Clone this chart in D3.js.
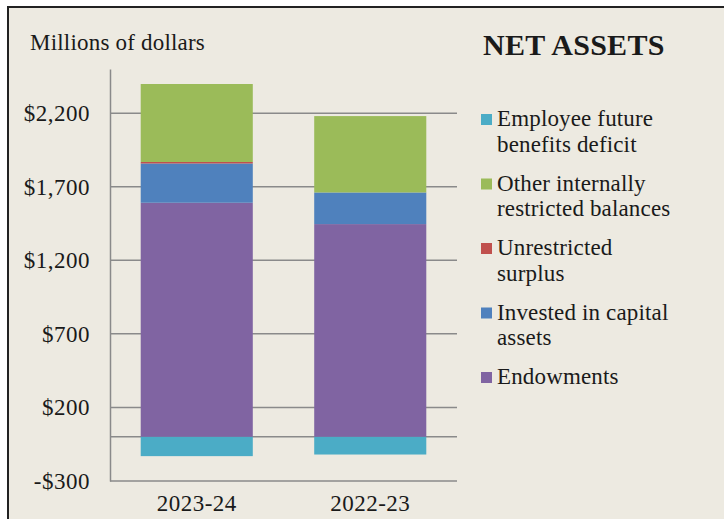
<!DOCTYPE html>
<html>
<head>
<meta charset="utf-8">
<script src="https://cdn.jsdelivr.net/npm/d3@7"></script>
<style>
  html, body { margin: 0; padding: 0; background: #ffffff; }
  svg { display: block; }
  text { font-family: "Liberation Serif", "Times New Roman", serif; fill: #1a1a1a; }
</style>
</head>
<body>
<svg id="chart" width="724" height="519"></svg>
<script>
// ---- Data (millions of dollars) ----
const years = ["2023-24", "2022-23"];
const employeeDeficit = [-131, -120];
const endowments = [1591, 1446];
const investedCapital = [267, 215];
const unrestrictedSurplus = [10, 0];
const otherRestricted = [530, 519];
const tickValues = [-300, 200, 700, 1200, 1700, 2200];
const seriesNames = ["Employee future benefits deficit", "Other internally restricted balances", "Unrestricted surplus", "Invested in capital assets", "Endowments"];
const legendLines = [["Employee future", "benefits deficit"], ["Other internally", "restricted balances"], ["Unrestricted", "surplus"], ["Invested in capital", "assets"], ["Endowments"]];
const seriesColors = ["#4BACC6", "#9BBB59", "#C0504D", "#4F81BD", "#8064A2"];

const svg = d3.select("#chart");
const W = 724, H = 519;

// background panel with border
svg.append("rect").attr("x", 7).attr("y", 6).attr("width", W - 7).attr("height", H - 6).attr("fill", "#EDEAE1");
svg.append("line").attr("x1", 7).attr("x2", W).attr("y1", 7).attr("y2", 7).attr("stroke", "#222").attr("stroke-width", 2);
svg.append("line").attr("x1", 8).attr("x2", 8).attr("y1", 6).attr("y2", H).attr("stroke", "#222").attr("stroke-width", 2);

const plot = { left: 110, right: 457, top: 69, bottom: 481 };

const y = d3.scaleLinear().domain([-300, 2500]).range([plot.bottom, plot.top]);
const x = d3.scaleBand().domain(years).range([plot.left, plot.right]).paddingInner(0.354).paddingOuter(0.177);

// table for stacking
const rows = years.map((yr, i) => ({
  year: yr,
  "Endowments": endowments[i],
  "Invested in capital assets": investedCapital[i],
  "Unrestricted surplus": unrestrictedSurplus[i],
  "Other internally restricted balances": otherRestricted[i],
  "Employee future benefits deficit": employeeDeficit[i]
}));
const stackKeys = ["Endowments", "Invested in capital assets", "Unrestricted surplus", "Other internally restricted balances", "Employee future benefits deficit"];
const color = d3.scaleOrdinal().domain(seriesNames).range(seriesColors);
const stacked = d3.stack().keys(stackKeys).offset(d3.stackOffsetDiverging)(rows);

// gridlines
const gridVals = tickValues.filter(v => v > -300).concat([0]);
svg.append("g").selectAll("line").data(gridVals).join("line")
  .attr("x1", plot.left).attr("x2", plot.right)
  .attr("y1", d => y(d)).attr("y2", d => y(d))
  .attr("stroke", "#8a8a8a").attr("stroke-width", 1.5);

// bars
svg.append("g").selectAll("g").data(stacked).join("g")
  .attr("fill", d => color(d.key))
  .selectAll("rect").data(d => d).join("rect")
  .attr("x", d => x(d.data.year))
  .attr("width", x.bandwidth())
  .attr("y", d => y(Math.max(d[0], d[1])))
  .attr("height", d => Math.abs(y(d[0]) - y(d[1])));

// y axis
const yAxis = d3.axisLeft(y).tickValues(tickValues).tickSize(0).tickPadding(20)
  .tickFormat(d => (d < 0 ? "-$" : "$") + d3.format(",")(Math.abs(d)));
const gy = svg.append("g").attr("transform", `translate(${plot.left},0)`).call(yAxis);
gy.select(".domain").attr("stroke", "#8a8a8a").attr("stroke-width", 1.5);
gy.selectAll("text").attr("font-size", 23).attr("font-family", "Liberation Serif").attr("fill", "#1a1a1a").attr("letter-spacing", 0.5);

// x axis
const xAxis = d3.axisBottom(x).tickSize(0).tickPadding(14);
const gx = svg.append("g").attr("transform", `translate(0,${plot.bottom})`).call(xAxis);
gx.select(".domain").attr("stroke", "#8a8a8a").attr("stroke-width", 1.5).attr("d", `M${plot.left},0H${plot.right}`);
gx.selectAll("text").attr("font-size", 23).attr("font-family", "Liberation Serif").attr("fill", "#1a1a1a").attr("letter-spacing", 0.5);

// unit label
svg.append("text").attr("x", 30).attr("y", 50).attr("font-size", 23).attr("letter-spacing", 0.2).text("Millions of dollars");

// title
svg.append("text").attr("x", 483).attr("y", 55).attr("font-size", 30).attr("font-weight", "bold").attr("fill", "#000").attr("letter-spacing", 0.3).text("NET ASSETS");

// legend
const lg = svg.append("g");
seriesNames.forEach((name, i) => {
  const by = 126 + i * 64.5;
  lg.append("rect").attr("x", 481).attr("y", by - 12).attr("width", 11).attr("height", 11).attr("fill", color(name));
  legendLines[i].forEach((ln, j) => {
    lg.append("text").attr("x", 497).attr("y", by + j * 25.5).attr("font-size", 23).attr("letter-spacing", 0.15).text(ln);
  });
});
</script>
</body>
</html>
